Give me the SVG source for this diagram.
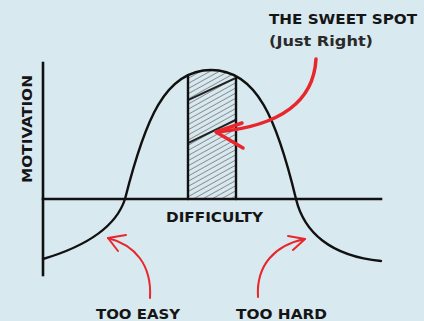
<svg xmlns="http://www.w3.org/2000/svg" width="424" height="321" viewBox="0 0 424 321">
<style>
.ax{stroke:#111;stroke-width:2.6;fill:none;stroke-linecap:square}
.cv{stroke:#111;stroke-width:2.4;fill:none;stroke-linecap:round}
.red{stroke:#e8262b;fill:none;stroke-linecap:round;stroke-linejoin:round}
.lbl{font-family:"DejaVu Sans","Liberation Sans",sans-serif;font-weight:bold;font-size:14px;fill:#151515}
</style>
<defs>
<clipPath id="spot"><path d="M188,199 L188,76 C200,71 206,70 211,70 C220,70 228,72 236,78 L236,199 Z"/></clipPath>
<pattern id="hatch" patternUnits="userSpaceOnUse" width="5" height="4.5" patternTransform="rotate(-29)">
<line x1="0" y1="2.2" x2="5" y2="2.2" stroke="#7c8185" stroke-width="0.9"/>
</pattern>
</defs>
<rect width="424" height="321" fill="#d9e9f0"/>
<g id="sweet-spot">
<rect x="188" y="60" width="48" height="140" fill="url(#hatch)" clip-path="url(#spot)"/>
<g clip-path="url(#spot)" stroke="#222" stroke-width="2">
<line x1="188" y1="100" x2="238" y2="77"/>
<line x1="188" y1="143" x2="238" y2="119"/>
</g>
<line x1="188" y1="76" x2="188" y2="199" class="cv" stroke-width="2"/>
<line x1="236" y1="78" x2="236" y2="199" class="cv" stroke-width="2"/>
</g>
<g id="axes">
<line class="ax" x1="43" y1="63" x2="43" y2="275"/>
<line class="ax" x1="43" y1="199" x2="381" y2="199"/>
</g>
<g id="curve">
<path class="cv" d="M43,259 C80,248 115,230 125,199 C145,120 165,70 211,70 C257,70 277,120 296,199 C304,232 330,256 381,261"/>
</g>
<g id="connectors">
<path class="red" stroke-width="3.5" d="M316,59 C314,95 290,125 217,132"/>
<path class="red" stroke-width="3.5" d="M242,123 L216,132 L243,148"/>
<path class="red" stroke-width="2" d="M150,298 C152,265 135,245 108,238"/>
<path class="red" stroke-width="2" d="M126,235 L108,238 L118,251"/>
<path class="red" stroke-width="2" d="M258,297 C256,265 275,245 305,239"/>
<path class="red" stroke-width="2" d="M288,236 L305,239 L293,250"/>
</g>
<g id="labels">
<text class="lbl" x="269" y="24" textLength="148" lengthAdjust="spacingAndGlyphs">THE SWEET SPOT</text>
<text class="lbl" x="269" y="46" textLength="104" lengthAdjust="spacingAndGlyphs" style="font-weight:600;fill:#2a2a2a">(Just Right)</text>
<text class="lbl" transform="translate(32,129) rotate(-90)" text-anchor="middle" textLength="108" lengthAdjust="spacingAndGlyphs">MOTIVATION</text>
<text class="lbl" x="166" y="222" textLength="97" lengthAdjust="spacingAndGlyphs">DIFFICULTY</text>
<text class="lbl" x="96" y="319" textLength="84" lengthAdjust="spacingAndGlyphs">TOO EASY</text>
<text class="lbl" x="236" y="319" textLength="91" lengthAdjust="spacingAndGlyphs">TOO HARD</text>
</g>
</svg>
